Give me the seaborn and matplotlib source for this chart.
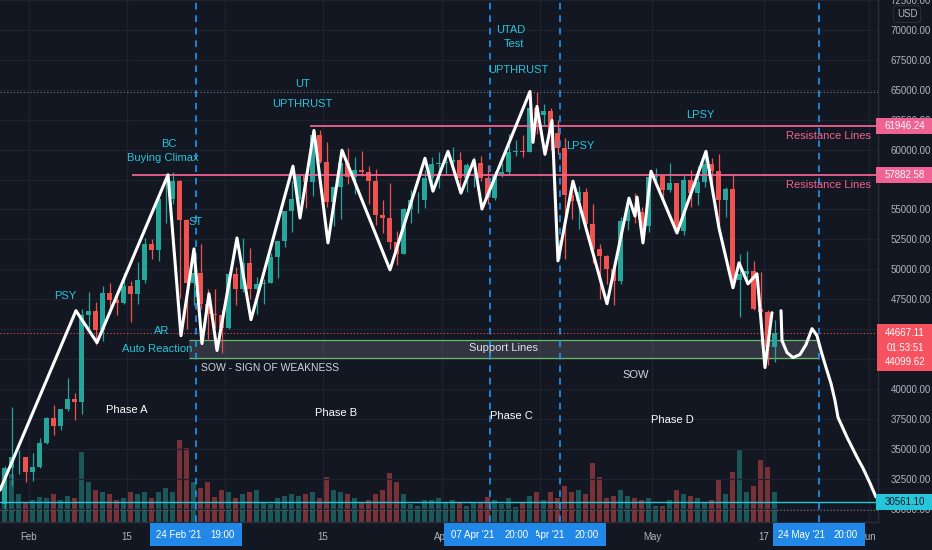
import numpy as np
import pandas as pd
import seaborn as sns
import matplotlib.pyplot as plt
import matplotlib.dates as mdates
from matplotlib.patches import Rectangle

# --- data: daily BTC/USD candles, 28 Jan 2021 - 18 May 2021 ---
first_day = '2021-01-28'
first_open = 30400
closes = [33400, 34300, 34300, 33100,
          33500, 35500, 37600, 36900, 38300, 39200, 38900, 46200, 46500, 44900,
          48000, 47400, 47200, 48600, 47900, 49100, 52100, 51600, 55900, 55900,
          57400, 54100, 48900, 49700, 47100, 46300, 46200, 45100,
          49600, 48400, 50500, 48400, 48800, 48900, 51000, 52400, 54900, 55900,
          57800, 57300, 61200, 59000, 55600, 56900, 58900, 57700, 58300, 58100,
          57400, 54500, 54300, 52300, 51300, 55000, 55800, 55800, 57600, 58800, 58900,
          59000, 59100, 57600, 58700, 58900, 57600, 56000, 58000, 58100, 59800,
          59900, 59800, 63500, 62900, 63200, 61400, 60100, 56200, 55700, 56500,
          53800, 51700, 51100, 50000, 49000, 54000, 55000, 54800, 53600, 57700,
          57800, 56600, 57200, 53200, 57500, 56400, 57300, 58800, 58200, 55800,
          56700, 49100, 49600, 49900, 46700, 46400, 43500, 44667]
highs = [33600, 38500, 34900, 34300,
         34700, 35900, 37700, 38700, 38300, 40900, 39700, 46700, 48100, 47300,
         48600, 48900, 48100, 49700, 49000, 50600, 52600, 52500, 56300, 57500,
         58100, 57500, 54200, 51400, 52100, 48400, 48400, 46600,
         49800, 50200, 52600, 51800, 49400, 49200, 51400, 52400, 54900, 57400,
         58000, 58100, 61700, 61600, 60600, 56900, 58900, 60100, 59400, 59900,
         58600, 58400, 55800, 57200, 53200, 55100, 56600, 56500, 58300, 59400, 59800,
         59500, 60200, 59800, 58900, 59400, 59500, 58700, 58200, 58900, 61300,
         60800, 61200, 63800, 64850, 63800, 63500, 62500, 61000, 57500, 57000,
         56800, 55500, 52100, 51200, 50600, 54400, 55400, 56400, 55200, 58000,
         58500, 57900, 58900, 57200, 57900, 58300, 58600, 59500, 59300, 59600,
         56900, 58000, 51300, 51500, 50700, 49800, 46600, 45800]
lows = [30000, 31900, 32900, 32200,
        32300, 33400, 35400, 36200, 36600, 38200, 37400, 37900, 45000, 43700,
        44000, 46300, 46200, 47100, 45600, 47100, 48900, 50900, 50700, 53900,
        55500, 47600, 45000, 47000, 46700, 44200, 45100, 43000,
        45000, 47000, 48100, 47500, 46300, 47100, 48900, 49300, 51900, 53100,
        54300, 55100, 56100, 58900, 55200, 53600, 54200, 57100, 56300, 57800,
        55500, 53700, 53000, 51700, 50400, 51300, 53900, 54700, 55100, 57000, 56800,
        57900, 58600, 57000, 56500, 56900, 57400, 55500, 55800, 57700, 57900,
        59500, 59400, 59800, 61300, 62000, 60000, 59600, 50900, 54200, 53400,
        53600, 50500, 47500, 48800, 47000, 48800, 53300, 53900, 52400, 53100,
        57000, 56000, 56500, 53000, 52900, 55200, 55400, 56900, 56200, 53400,
        54400, 48600, 46000, 48800, 46600, 43800, 42000, 42300]
volumes = [30, 48, 28, 20,
           22, 25, 24, 28, 22, 26, 24, 70, 40, 32,
           30, 28, 22, 24, 30, 28, 30, 24, 30, 34,
           30, 82, 74, 40, 34, 40, 25, 32,
           30, 24, 28, 30, 32, 20, 18, 24, 26, 28,
           26, 28, 30, 24, 45, 32, 30, 28, 24, 20,
           22, 28, 32, 49, 40, 28, 18, 16, 22, 22, 24,
           20, 22, 20, 16, 20, 20, 25, 22, 18, 24,
           15, 20, 26, 30, 22, 30, 24, 36, 30, 32,
           28, 59, 45, 24, 26, 32, 26, 24, 22, 24,
           16, 16, 22, 32, 28, 26, 24, 20, 22, 42,
           28, 50, 72, 30, 36, 62, 55, 30]

# hand-drawn Wyckoff path (days after 1 Feb 2021, price)
path_days = [-4.14, 6.71, 9.71, 19.86, 21.71, 23.57, 24.71, 25.71, 26.86, 29.71,
             31.71, 37.71, 38.71, 40.71, 42.71, 44.71, 51.57, 56.57, 57.71, 59.86,
             61.71, 63.57, 64.71, 71.57, 72.0, 72.57, 73.71, 74.71, 75.57, 77.71,
             82.57, 85.71, 86.57, 86.86, 87.71, 88.86, 92.57, 96.71, 98.57, 100.57,
             101.43, 102.71, 104.0, 105.14, 106.14]
path_prices = [31560, 46550, 43880, 57900, 44460, 51710, 43800, 47960, 43220, 52620,
               45800, 58620, 54290, 61600, 52210, 59950, 49960, 59280, 56530, 59860,
               56370, 59120, 55040, 64860, 60610, 63610, 59610, 62440, 50710, 57370,
               47130, 55950, 54450, 56040, 52210, 58200, 53040, 59860, 53450, 48460,
               50540, 48790, 49630, 41800, 46380]
path2_days = [107.43, 107.57, 108.29, 109.14, 110.14, 111.0, 111.86, 112.57, 113.14,
              113.86, 114.57, 115.14, 115.57, 116.86, 118.29, 119.14, 120.14, 121.0]
path2_prices = [46545, 44047, 43048, 42632, 42882, 43714, 45046, 44463, 43215,
                41800, 40468, 39052, 37637, 35972, 34307, 33391, 32143, 30977]

resistance_hi = 61946.24
resistance_lo = 57882.58
support_top = 44099.62
support_bottom = 42630
last_price = 44667.11
range_high = 64854
range_low = 29900
low_line = 30561.10

marker_times = ['2021-02-24 19:00', '2021-04-17 20:00', '2021-04-07 20:00', '2021-05-24 20:00']
marker_dates = ["24 Feb '21", "17 Apr '21", "07 Apr '21", "24 May '21"]
marker_hours = ['19:00', '20:00', '20:00', '20:00']

tick_days = ['2021-02-01', '2021-02-15', '2021-03-01', '2021-03-15', '2021-04-01',
             '2021-04-15', '2021-05-01', '2021-05-17', '2021-06-01']
tick_names = ['Feb', '15', '', '15', 'Apr', '', 'May', '17', 'Jun']
price_ticks = [30000, 32500, 35000, 37500, 40000, 42500, 45000, 47500, 50000, 52500,
               55000, 57500, 60000, 62500, 65000, 67500, 70000, 72500]
hidden_prices = [42500, 45000, 57500]

# --- style ---
BG = '#131722'
UP = '#26a69a'
DOWN = '#ef5350'
CYAN = '#26c6da'
PINK = '#f06292'
AXIS_TXT = '#b2b5be'
GRID = '#1e2230'
SMALL = 7

sns.set_theme(style='dark', rc={'axes.facecolor': BG, 'figure.facecolor': BG,
                                'savefig.facecolor': BG})
plt.rcParams['font.family'] = ['Liberation Sans', 'DejaVu Sans']

fig = plt.figure(figsize=(9.32, 5.5), dpi=100)
ax = fig.add_axes([0, 28 / 550, 878 / 932, 522 / 550])
axv = ax.twinx()
ax.set_zorder(axv.get_zorder() + 1)
ax.patch.set_visible(False)
axv.set_facecolor(BG)

feb1 = mdates.date2num(pd.Timestamp('2021-02-01'))
x = mdates.date2num(pd.date_range(first_day, periods=len(closes), freq='D')) + 0.5
closes = np.array(closes, dtype=float)
opens = np.r_[first_open, closes[:-1]]
colors = np.where(closes >= opens, UP, DOWN)

# volume (lower pane, own scale)
axv.bar(x, volumes, width=0.75, color=colors, alpha=0.45, linewidth=0)
axv.set_ylim(0, 522)
axv.set_yticks([])
for s in axv.spines.values():
    s.set_visible(False)

# candles
ax.vlines(x, lows, highs, colors=colors, linewidth=0.9, zorder=3)
ax.bar(x, np.abs(closes - opens), bottom=np.minimum(opens, closes), width=0.68,
       color=colors, linewidth=0, zorder=3)

# hand-drawn path
sns.lineplot(x=feb1 + np.array(path_days), y=path_prices, ax=ax, color='white',
             linewidth=2.2, sort=False, estimator=None, zorder=7)
sns.lineplot(x=feb1 + np.array(path2_days), y=path2_prices, ax=ax, color='white',
             linewidth=2.2, sort=False, estimator=None, zorder=7)

x_left = feb1 - 29 / 7
x_right = feb1 + 849 / 7
ax.set_xlim(x_left, x_right)
ax.set_ylim(28896, 72352)

# horizontal levels
t = lambda s: mdates.date2num(pd.Timestamp(s))
ax.hlines(resistance_hi, t('2021-03-13 03:00'), x_right, color=PINK, lw=1.3, zorder=5)
ax.hlines(resistance_lo, t('2021-02-15 16:00'), x_right, color=PINK, lw=1.3, zorder=5)
ax.axhline(last_price, color=DOWN, lw=0.8, ls=(0, (1, 2)), zorder=4)
ax.axhline(range_high, color='#787b86', lw=0.8, ls=(0, (1, 2)), zorder=4)
ax.axhline(range_low, color='#787b86', lw=0.8, ls=(0, (1, 2)), zorder=4)
ax.axhline(low_line, color=CYAN, lw=1, zorder=4)

sup_left = t('2021-02-23 21:00')
sup_right = t('2021-05-24 20:00')
ax.add_patch(Rectangle((sup_left, support_bottom), sup_right - sup_left,
                       support_top - support_bottom, facecolor='#787b86', alpha=0.3,
                       edgecolor='none', zorder=2))
ax.hlines([support_top, support_bottom], sup_left, sup_right,
          color='#66bb6a', lw=0.9, zorder=2)

for m in marker_times:
    ax.axvline(t(m), color='#2196f3', lw=1.2, ls=(0, (4, 3.5)), zorder=4)

# axes, ticks, grid
ax.yaxis.tick_right()
ax.set_yticks(price_ticks)
ax.set_yticklabels(['' if v in hidden_prices else f'{v:.2f}' for v in price_ticks])
ax.set_xticks([t(d) for d in tick_days])
ax.set_xticklabels(tick_names)
ax.tick_params(axis='y', length=0, pad=9, labelsize=SMALL, labelcolor=AXIS_TXT)
ax.tick_params(axis='x', length=0, pad=7, labelsize=SMALL, labelcolor=AXIS_TXT)
ax.grid(True, color=GRID, lw=0.9)
ax.set_axisbelow(True)
for side in ['top', 'left']:
    ax.spines[side].set_visible(False)
for side in ['right', 'bottom']:
    ax.spines[side].set_color('#2a2e39')
    ax.spines[side].set_linewidth(1)
ax.set_xlabel('')
ax.set_ylabel('')


def note(px, py, s, color=CYAN, size=8):
    ax.text(px / 878, 1 - py / 522, s, transform=ax.transAxes, color=color,
            fontsize=size, ha='center', va='center', zorder=8)


note(65, 296, 'PSY')
note(169, 144, 'BC')
note(163, 158, 'Buying Climax')
note(196, 222, 'ST')
note(162, 331, 'AR')
note(157, 349, 'Auto Reaction')
note(270, 368, 'SOW - SIGN OF WEAKNESS', '#d1d4dc', 7.5)
note(302, 84, 'UT')
note(302, 104, 'UPTHRUST')
note(511, 30, 'UTAD')
note(514, 44, 'Test')
note(518, 70, 'UPTHRUST')
note(580, 146, 'LPSY')
note(700, 115, 'LPSY')
note(828, 136, 'Resistance Lines', PINK)
note(828, 185, 'Resistance Lines', PINK)
note(503, 348, 'Support Lines', '#e0e3eb')
note(636, 375, 'SOW', '#d1d4dc')
note(127, 410, 'Phase A', 'white')
note(336, 413, 'Phase B', 'white')
note(511, 416, 'Phase C', 'white')
note(672, 420, 'Phase D', 'white')


# price tags on the right scale
def ydisp(price):
    return ax.transData.transform((0, price))[1]


def tag(price, s, fc, tc='white'):
    yd = ydisp(price)
    fig.add_artist(Rectangle((876 / 932, (yd - 8) / 550), 56 / 932, 16 / 550,
                             transform=fig.transFigure, fc=fc, ec='none', zorder=5))
    fig.text(905 / 932, yd / 550, s, color=tc, ha='center', va='center',
             fontsize=SMALL, zorder=6)


tag(resistance_hi, f'{resistance_hi:.2f}', PINK)
tag(resistance_lo, f'{resistance_lo:.2f}', PINK)
tag(low_line, f'{low_line:.2f}', CYAN, BG)

yl = ydisp(last_price)
fig.add_artist(Rectangle((877 / 932, (yl - 38) / 550), 55 / 932, 47 / 550,
                         transform=fig.transFigure, fc='#f7525f', ec='none', zorder=5))
for i, s in enumerate([f'{last_price:.2f}', '01:53:51', f'{support_top:.2f}']):
    fig.text(905 / 932, (yl - 14.5 * i) / 550, s, color='white', ha='center',
             va='center', fontsize=SMALL, zorder=6)

fig.text(907 / 932, 1 - 14 / 550, 'USD', color=AXIS_TXT, ha='center', va='center',
         fontsize=SMALL, zorder=6,
         bbox=dict(boxstyle='round,pad=0.35', fc=BG, ec='#2a2e39', lw=0.8))

# time labels of the vertical markers
for i, m in enumerate(marker_times):
    xd = ax.transData.transform((t(m), 0))[0]
    fig.add_artist(Rectangle(((xd - 46) / 932, 4 / 550), 92 / 932, 23 / 550,
                             transform=fig.transFigure, fc='#2188e8', ec='none',
                             zorder=5 + 2 * i))
    fig.text((xd - 17) / 932, 15.5 / 550, marker_dates[i], color='white', ha='center',
             va='center', fontsize=SMALL, zorder=6 + 2 * i)
    fig.text((xd + 27) / 932, 15.5 / 550, marker_hours[i], color='white', ha='center',
             va='center', fontsize=SMALL, zorder=6 + 2 * i)

fig.savefig('out.png', dpi=100)
